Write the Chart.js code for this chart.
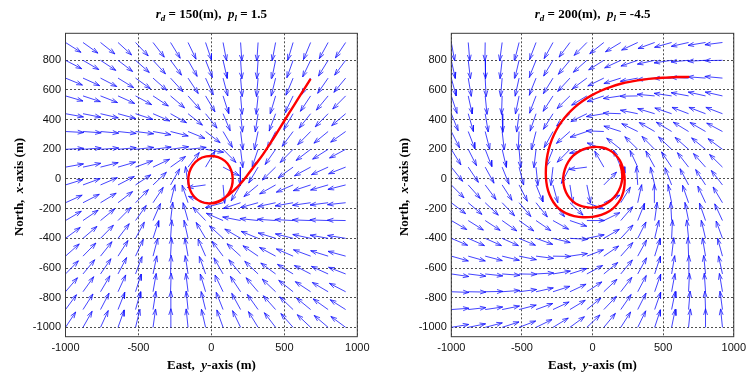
<!DOCTYPE html>
<html><head><meta charset="utf-8">
<script src="https://cdn.jsdelivr.net/npm/chart.js@4.4.1/dist/chart.umd.min.js"></script>
<style>
html,body{margin:0;padding:0;background:#fff;width:751px;height:375px;overflow:hidden}
canvas{position:absolute;top:0}
#c1{left:0}
#c2{left:375px}
</style></head><body>
<canvas id="c1" width="375" height="375"></canvas>
<canvas id="c2" width="376" height="375"></canvas>
<script>
// ---------- data ----------
const gridX = [-1000,-880,-760,-640,-520,-400,-280,-160,-40,80,200,320,440,560,680,800,920];
const gridY = [920,800,680,560,440,320,200,80,-40,-160,-280,-400,-520,-640,-760,-880,-1000];
const xTicks = [-1000,-500,0,500,1000];
const yTicks = [-1000,-800,-600,-400,-200,0,200,400,600,800];
const arrowLen = 125;

const leftParams = {rd: 150, pl: '1.5'};
const rightParams = {rd: 200, pl: '-4.5'};

// arrow directions (degrees, east = 0, north = 90), rows top→bottom, columns west→east
const leftAngles = [
 [-32,-35,-38,-42,-46,-52,-58,-64,-71,-79,-86,-94,-101,-107,-113,-119,-124],
 [-27,-30,-33,-37,-41,-47,-53,-60,-68,-77,-86,-94,-102,-110,-116,-122,-127],
 [-22,-24,-27,-31,-35,-41,-47,-56,-65,-75,-85,-95,-104,-113,-119,-125,-130],
 [-16,-18,-21,-24,-28,-33,-40,-48,-59,-72,-85,-96,-107,-116,-124,-130,-135],
 [-10,-11,-13,-15,-18,-23,-29,-38,-51,-67,-84,-99,-111,-121,-129,-135,-140],
 [-3,-4,-5,-6,-7,-10,-14,-22,-37,-59,-83,-102,-117,-127,-135,-141,-145],
 [3,4,4,5,6,7,8,6,-9,-45,-83,-109,-125,-135,-143,-148,-152],
 [10,12,14,16,20,25,35,52,59,-27,-91,-121,-136,-145,-152,-156,-159],
 [17,20,23,27,33,43,60,98,-172,-85,-121,-141,-151,-157,-162,-164,-166],
 [24,27,31,37,45,56,76,109,160,-165,-162,-165,-168,-170,-172,-173,-174],
 [30,34,39,45,54,66,83,106,134,157,169,174,176,177,178,178,179],
 [36,40,45,52,61,72,86,103,121,138,150,158,163,166,168,170,171],
 [41,45,51,57,65,75,87,100,114,127,138,146,152,157,160,163,165],
 [45,50,55,62,69,78,88,99,110,120,130,137,144,149,153,156,159],
 [49,54,59,65,72,80,88,97,107,116,124,131,137,142,147,150,153],
 [53,57,62,68,74,81,89,96,104,112,119,126,132,137,141,145,148],
 [56,60,65,70,76,82,89,96,103,110,116,122,128,132,137,140,144]
];
const rightAngles = [
 [-79,-85,-91,-98,-105,-112,-120,-128,-136,-143,-150,-156,-161,-165,-168,-171,-173],
 [-77,-83,-89,-97,-104,-113,-122,-131,-140,-149,-156,-162,-168,-172,-175,-177,-179],
 [-74,-80,-87,-95,-103,-113,-123,-134,-145,-155,-163,-170,-175,-179,178,176,175],
 [-71,-77,-84,-92,-102,-112,-124,-137,-150,-162,-172,-179,175,172,170,168,168],
 [-67,-73,-80,-88,-98,-110,-123,-139,-155,-171,178,169,164,162,160,160,160],
 [-62,-68,-75,-83,-93,-105,-120,-140,-162,178,163,155,151,150,150,151,153],
 [-57,-62,-68,-76,-85,-97,-113,-136,-168,160,143,137,136,138,140,142,145],
 [-50,-55,-60,-67,-75,-84,-97,-119,-173,121,114,116,120,125,129,133,137],
 [-44,-47,-52,-56,-62,-67,-74,-81,-78,44,79,94,104,112,119,124,129],
 [-36,-39,-42,-45,-48,-50,-49,-42,-19,24,57,77,91,102,110,116,122],
 [-29,-31,-32,-34,-34,-33,-28,-18,0,25,48,67,82,93,102,110,116],
 [-22,-23,-23,-23,-22,-19,-13,-3,11,29,46,62,76,87,96,104,111],
 [-15,-15,-14,-13,-11,-7,-1,8,20,33,47,60,72,83,92,100,106],
 [-8,-7,-6,-4,-1,3,9,17,27,38,49,60,71,80,89,96,103],
 [-2,-1,1,4,7,12,17,24,32,42,51,61,70,79,87,94,100],
 [4,6,8,11,14,19,24,30,38,45,54,62,70,78,85,92,98],
 [9,11,14,17,20,25,30,35,42,49,56,63,71,78,84,90,96]
];

// trajectories (East y, North x)
const leftTrajX = [680,600,530,470,410,355,300,250,205,160,115,70,25,-25,-75,-118,-147,-158,-152,-128,-88,-35,20,70,110,136,146,140,116,78,30,-20];
const leftTrajY = [675,550,440,345,250,168,95,30,-25,-72,-110,-140,-158,-164,-152,-120,-72,-15,42,93,132,152,153,136,104,58,5,-50,-100,-138,-160,-166];
const rightTrajX = [685,600,520,440,360,280,200,125,55,-10,-70,-125,-175,-220,-258,-288,-310,-324,-330,-330,-322,-305,-278,-240,-190,-130,-65,0,62,118,163,197,218,227,226,215,193,160,118,68,15,-40,-92,-137,-172,-196,-207,-204,-188,-160,-120,-72,-18,38,90,135,172,198,210,208,196];
const rightTrajY = [688,687,683,678,670,658,642,620,593,562,526,485,438,385,327,265,200,135,70,10,-50,-105,-155,-198,-230,-250,-258,-255,-242,-218,-182,-138,-88,-35,20,75,125,165,195,212,216,208,188,157,115,65,12,-40,-90,-132,-165,-185,-193,-188,-170,-140,-100,-52,0,50,100];

// ---------- helpers ----------
function buildArrows(angles) {
  const pts = [];
  const al = 0.33, be = 0.33;
  gridY.forEach((y0, j) => gridX.forEach((x0, i) => {
    const a = angles[j][i] * Math.PI / 180;
    const u = arrowLen * Math.cos(a), v = arrowLen * Math.sin(a);
    const x1 = x0 + u, y1 = y0 + v;
    pts.push({x:x0, y:y0}, {x:x1, y:y1}, {x:x1, y:null},
      {x:x1 - al*(u + be*v), y:y1 - al*(v - be*u)}, {x:x1, y:y1},
      {x:x1 - al*(u - be*v), y:y1 - al*(v + be*u)}, {x:x1, y:null});
  }));
  return pts;
}
const toPts = (xs, ys) => xs.map((x, i) => ({x, y: ys[i]}));

const SERIF = '"Liberation Serif","Times New Roman",serif';
const B = s => ({t:s, f:`bold 13px ${SERIF}`});
const I = s => ({t:s, f:`italic bold 13px ${SERIF}`});
const SUB = s => ({t:s, f:`italic bold 9px ${SERIF}`, dy:3.5});

function drawRich(ctx, pieces, cx, by) {
  let total = 0;
  const w = pieces.map(p => { ctx.font = p.f; const m = ctx.measureText(p.t).width; total += m; return m; });
  let x = cx - total / 2;
  ctx.fillStyle = '#000';
  ctx.textBaseline = 'alphabetic';
  ctx.textAlign = 'left';
  pieces.forEach((p, k) => { ctx.font = p.f; ctx.fillText(p.t, x, by + (p.dy || 0)); x += w[k]; });
}

const textPlugin = {
  id: 'txt',
  afterDraw(chart, args, o) {
    const ctx = chart.ctx, ca = chart.chartArea;
    ctx.save();
    ctx.strokeStyle = '#3a3a3a'; ctx.lineWidth = 1;
    ctx.strokeRect(ca.left, ca.top, ca.right - ca.left, ca.bottom - ca.top);
    const cx = (ca.left + ca.right) / 2, cy = (ca.top + ca.bottom) / 2;
    drawRich(ctx, o.title, cx, 17.5);
    drawRich(ctx, o.xlab, cx, 368.5);
    ctx.translate(ca.left - 43, cy + 2);
    ctx.rotate(-Math.PI / 2);
    drawRich(ctx, o.ylab, 0, 0);
    ctx.restore();
  }
};

function makeChart(id, angles, tx, ty, params, pad) {
  const tickFont = {family: '"Liberation Sans", Arial, sans-serif', size: 11};
  return new Chart(document.getElementById(id), {
    type: 'line',
    data: {datasets: [
      {data: toPts(tx, ty), borderColor: 'rgb(255,0,0)', borderWidth: 2.4, pointRadius: 0, tension: 0.4, fill: false},
      {data: buildArrows(angles), borderColor: 'rgb(20,20,255)', borderWidth: 0.8, pointRadius: 0, tension: 0, fill: false, spanGaps: false}
    ]},
    options: {
      responsive: false, animation: false, events: [], devicePixelRatio: 1,
      layout: {autoPadding: false, padding: {left: 0, top: 33.3, right: pad.right, bottom: 0}},
      plugins: {legend: {display: false}, tooltip: {enabled: false},
        txt: {
          title: [I('r'), SUB('d'), B(` = ${params.rd}(m),  `), I('p'), SUB('l'), B(` = ${params.pl}`)],
          xlab: [B('East,  '), I('y'), B('-axis (m)')],
          ylab: [B('North,  '), I('x'), B('-axis (m)')]
        }},
      scales: {
        x: {type: 'linear', min: -1000, max: 1000,
          afterBuildTicks: s => { s.ticks = xTicks.map(v => ({value: v})); },
          afterFit: s => { s.height = 38.3; },
          ticks: {font: tickFont, color: '#111', padding: 5, maxRotation: 0, autoSkip: false, callback: v => String(v)},
          grid: {color: '#222', lineWidth: 0.8, drawTicks: false},
          border: {display: false, dash: [2, 2]}},
        y: {type: 'linear', min: -1063, max: 982,
          afterBuildTicks: s => { s.ticks = yTicks.map(v => ({value: v})); },
          afterFit: s => { s.width = pad.left; },
          ticks: {font: tickFont, color: '#111', padding: 4.5, autoSkip: false, callback: v => String(v)},
          grid: {color: '#222', lineWidth: 0.8, drawTicks: false},
          border: {display: false, dash: [2, 2]}}
      }
    },
    plugins: [textPlugin]
  });
}

makeChart('c1', leftAngles, leftTrajX, leftTrajY, leftParams, {left: 65.5, right: 17.7});
makeChart('c2', rightAngles, rightTrajX, rightTrajY, rightParams, {left: 76.3, right: 7.7});
</script>
</body></html>
